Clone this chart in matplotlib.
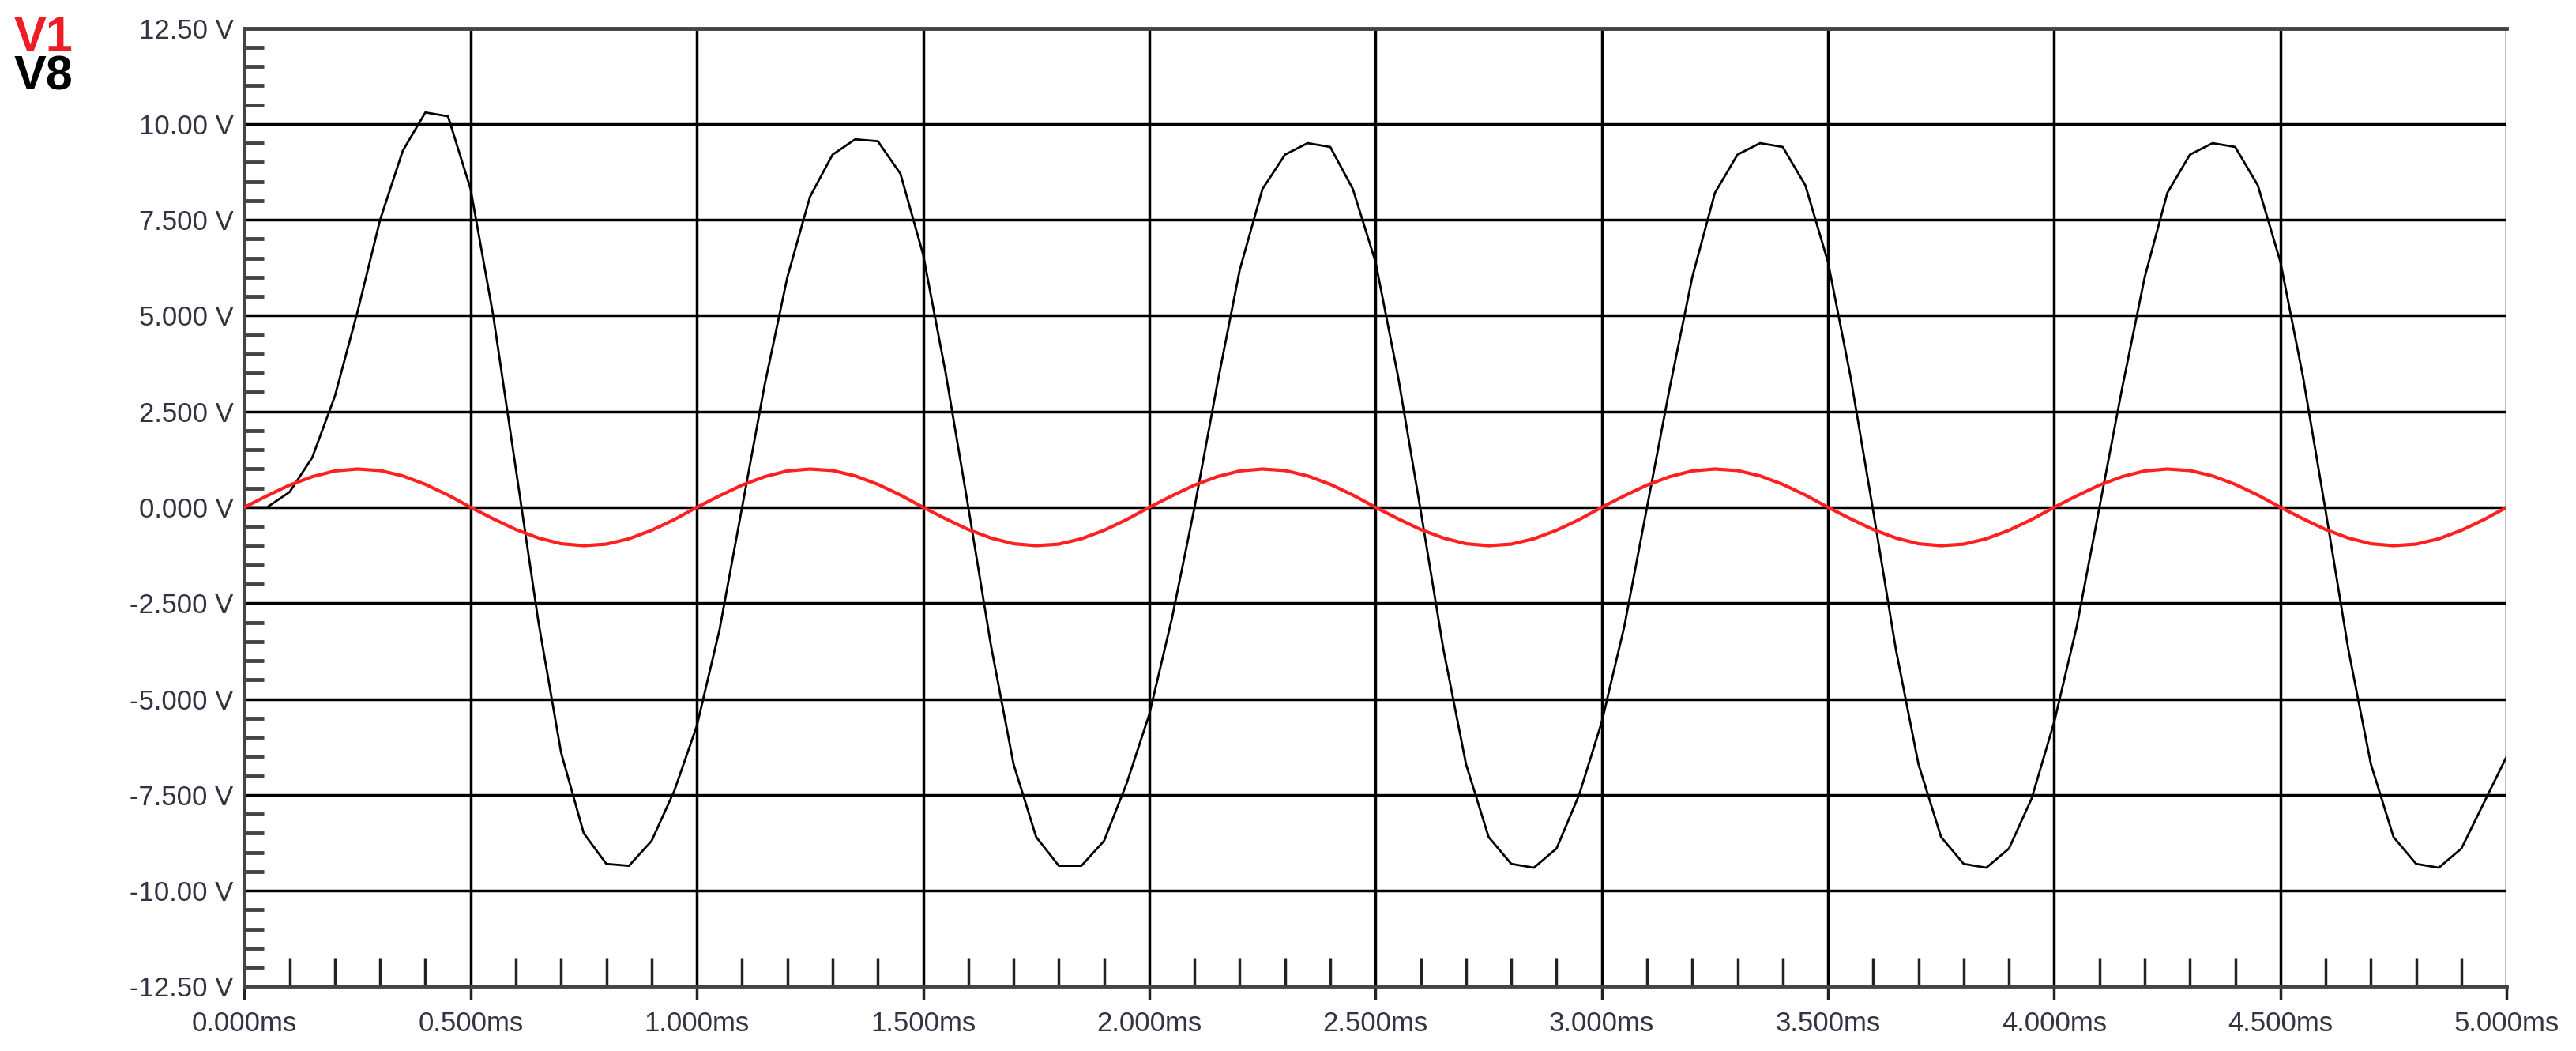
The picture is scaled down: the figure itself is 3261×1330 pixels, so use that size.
import numpy as np
import matplotlib.pyplot as plt
from matplotlib.ticker import MultipleLocator

# tempo in ms, passo 0.05
t_ms = [round(0.05 * i, 2) for i in range(101)]

v1 = [0.00, 0.30, 0.58, 0.80, 0.95, 1.00, 0.96, 0.82, 0.60, 0.32,
      0.00, -0.30, -0.58, -0.80, -0.95, -1.00, -0.96, -0.82, -0.60, -0.32,
      0.00, 0.30, 0.58, 0.80, 0.95, 1.00, 0.96, 0.82, 0.60, 0.32,
      0.00, -0.30, -0.58, -0.80, -0.95, -1.00, -0.96, -0.82, -0.60, -0.32,
      0.00, 0.30, 0.58, 0.80, 0.95, 1.00, 0.96, 0.82, 0.60, 0.32,
      0.00, -0.30, -0.58, -0.80, -0.95, -1.00, -0.96, -0.82, -0.60, -0.32,
      0.00, 0.30, 0.58, 0.80, 0.95, 1.00, 0.96, 0.82, 0.60, 0.32,
      0.00, -0.30, -0.58, -0.80, -0.95, -1.00, -0.96, -0.82, -0.60, -0.32,
      0.00, 0.30, 0.58, 0.80, 0.95, 1.00, 0.96, 0.82, 0.60, 0.32,
      0.00, -0.30, -0.58, -0.80, -0.95, -1.00, -0.96, -0.82, -0.60, -0.32,
      0.00]

v8 = [0.00, 0.00, 0.40, 1.30, 2.90, 5.10, 7.50, 9.30, 10.30, 10.20,
      8.30, 5.00, 1.00, -3.00, -6.40, -8.50, -9.30, -9.35, -8.70, -7.40,
      -5.70, -3.20, 0.00, 3.20, 6.00, 8.10, 9.20, 9.60, 9.55, 8.70,
      6.60, 3.50, 0.00, -3.60, -6.70, -8.60, -9.35, -9.35, -8.70, -7.20,
      -5.40, -2.90, 0.00, 3.20, 6.20, 8.30, 9.20, 9.50, 9.40, 8.30,
      6.40, 3.40, -0.10, -3.70, -6.70, -8.60, -9.30, -9.40, -8.90, -7.50,
      -5.60, -3.10, 0.00, 3.10, 6.00, 8.20, 9.20, 9.50, 9.40, 8.40,
      6.40, 3.40, -0.10, -3.70, -6.70, -8.60, -9.30, -9.40, -8.90, -7.60,
      -5.60, -3.10, 0.00, 3.10, 6.00, 8.20, 9.20, 9.50, 9.40, 8.40,
      6.40, 3.40, -0.10, -3.70, -6.70, -8.60, -9.30, -9.40, -8.90, -7.70,
      -6.50]

y_ticks = [12.5, 10.0, 7.5, 5.0, 2.5, 0.0, -2.5, -5.0, -7.5, -10.0, -12.5]
y_labels = ['12.50 V', '10.00 V', '7.500 V', '5.000 V', '2.500 V', '0.000 V',
            '-2.500 V', '-5.000 V', '-7.500 V', '-10.00 V', '-12.50 V']
x_ticks = [0.0, 0.5, 1.0, 1.5, 2.0, 2.5, 3.0, 3.5, 4.0, 4.5, 5.0]
x_labels = ['0.000ms', '0.500ms', '1.000ms', '1.500ms', '2.000ms', '2.500ms',
            '3.000ms', '3.500ms', '4.000ms', '4.500ms', '5.000ms']

plt.rcParams['font.family'] = ['Liberation Sans Narrow', 'Liberation Sans', 'DejaVu Sans']

fig = plt.figure(figsize=(32.61, 13.30), dpi=100)
ax = fig.add_axes([148/1560, 1 - 597/636, (1518-148)/1560, (597-17)/636])

ax.plot(t_ms, v8, color='black', lw=2.0, zorder=3)
ax.plot(t_ms, v1, color='#ff2020', lw=3.0, zorder=4)

ax.set_xlim(0, 5)
ax.set_ylim(-12.5, 12.5)
ax.set_xticks(x_ticks)
ax.set_xticklabels(x_labels)
ax.set_yticks(y_ticks)
ax.set_yticklabels(y_labels)
ax.xaxis.set_minor_locator(MultipleLocator(0.1))
ax.yaxis.set_minor_locator(MultipleLocator(0.5))
ax.grid(True, which='major', color='black', lw=2.5)

ax.tick_params(axis='both', which='major', labelsize=25, labelcolor='#333344', length=0, pad=10)
ax.tick_params(axis='x', which='minor', direction='in', length=26, width=2.5, color='#222222')
ax.tick_params(axis='y', which='minor', direction='in', length=18, width=3.5, color='#444444')
ax.tick_params(axis='x', which='major', direction='out', length=12, width=2.5, color='#222222')
for s in ax.spines.values():
    s.set_color('#444444')
    s.set_linewidth(3.5)
ax.spines['right'].set_visible(False)

fig.text(18/3261, 1 - 48/1330, 'V1', color='#ee1c24', fontsize=44, fontweight='bold', va='center',
         family=['Liberation Sans', 'DejaVu Sans'])
fig.text(18/3261, 1 - 98/1330, 'V8', color='black', fontsize=44, fontweight='bold', va='center',
         family=['Liberation Sans', 'DejaVu Sans'])

fig.savefig('out.png', dpi=100)
